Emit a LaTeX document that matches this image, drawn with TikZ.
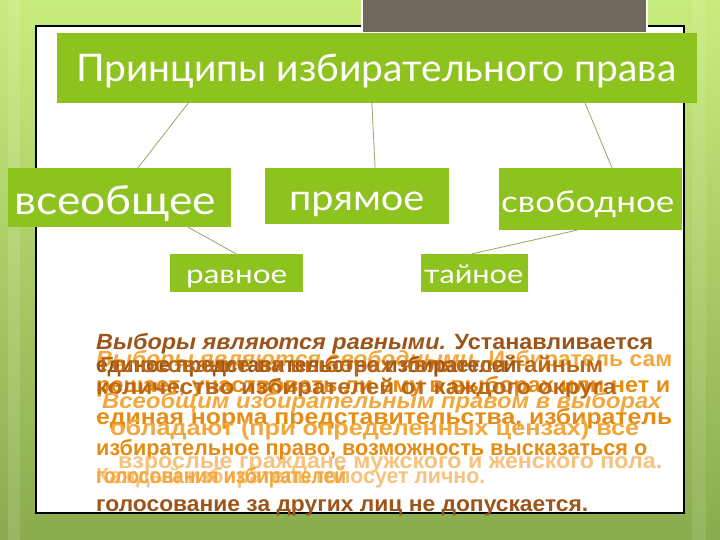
\documentclass[tikz,border=0pt]{standalone}
\usepackage{fontspec}
\usepackage{graphicx}
\setmainfont{Lato}
\newfontfamily\bodyf{Liberation Sans}
\usetikzlibrary{calc}
\definecolor{gfill}{RGB}{141,194,31}
\definecolor{bgtop}{RGB}{200,236,124}
\definecolor{bgbot}{RGB}{138,172,78}
\definecolor{grayrect}{RGB}{111,105,91}
\definecolor{conncol}{RGB}{160,160,100}
\definecolor{cbrown}{RGB}{156,84,24}
\definecolor{cdark}{RGB}{186,102,20}
\definecolor{corange}{RGB}{230,140,18}
\definecolor{clight}{RGB}{242,168,60}
\definecolor{cpale}{RGB}{247,194,126}
\begin{document}
\begin{tikzpicture}[x=1pt,y=-1pt,
  gbox/.style={fill=gfill, draw=none, inner sep=0pt},
  wtxt/.style={text=white, inner sep=0pt, anchor=base west},
  conn/.style={draw=conncol, line width=0.8pt},
  body/.style={inner sep=0pt, anchor=base west, font=\bodyf\bfseries}]
\useasboundingbox (0,0) rectangle (720,540);
% background
\shade[top color=bgtop, bottom color=bgbot] (0,0) rectangle (720,540);
\fill[white,opacity=0.12] (8,0) rectangle (20,540);
\fill[white,opacity=0.10] (692,0) rectangle (706,540);
% white panel
\node[fill=white, draw=black, line width=1.1pt, minimum width=648pt, minimum height=487pt, inner sep=0pt] (panel) at (360,269.5) {};
% gray rectangle at top
\node[fill=grayrect, draw=white, line width=2pt, minimum width=285pt, minimum height=36pt, inner sep=0pt] (grect) at (504.5,15) {};
% title
\node[gbox, minimum width=640pt, minimum height=70pt] (title) at (377,68) {};
\node[wtxt] (titleT) at (76,82) {\resizebox{600pt}{\height}{\fontsize{38}{38}\selectfont Принципы избирательного права}};
% child boxes
\node[gbox, minimum width=223pt, minimum height=59pt] (vse) at (119.5,197.5) {};
\node[gbox, minimum width=184pt, minimum height=56pt] (pry) at (357,196) {};
\node[gbox, minimum width=183pt, minimum height=62pt] (svo) at (590.5,199) {};
\node[gbox, minimum width=133pt, minimum height=38pt] (rav) at (236.5,273) {};
\node[gbox, minimum width=107pt, minimum height=38pt] (tai) at (474.5,273) {};
\node[wtxt] (vseT) at (14,215) {\resizebox{202pt}{\height}{\fontsize{40}{40}\selectfont всеобщее}};
\node[wtxt] (pryT) at (289,211) {\resizebox{135pt}{\height}{\fontsize{36}{36}\selectfont прямое}};
\node[wtxt] (svoT) at (501,213) {\resizebox{173pt}{\height}{\fontsize{30}{30}\selectfont свободное}};
\node[wtxt] (ravT) at (186,283) {\resizebox{101pt}{\height}{\fontsize{26}{26}\selectfont равное}};
\node[wtxt] (taiT) at (424,283) {\resizebox{99pt}{\height}{\fontsize{26}{26}\selectfont тайное}};
% connectors
\draw[conn] ($(title.south west)!0.205!(title.south east)$) -- ($(vse.north west)!0.583!(vse.north east)$);
\draw[conn] ($(title.south west)!0.492!(title.south east)$) -- ($(pry.north west)!0.598!(pry.north east)$);
\draw[conn] ($(title.south west)!0.825!(title.south east)$) -- ($(svo.north west)!0.617!(svo.north east)$);
\draw[conn] ($(vse.south west)!0.807!(vse.south east)$) -- ($(rav.north west)!0.496!(rav.north east)$);
\draw[conn] ($(svo.south west)!0.426!(svo.south east)$) -- ($(tai.north west)!0.477!(tai.north east)$);
% overlapping body text
\node[body, text=cbrown] (r1) at (96,349) {\resizebox{557pt}{\height}{\fontsize{22}{22}\selectfont\textit{Выборы являются равными.} Устанавливается}};
\node[body, text=clight] (r2) at (96,366) {\resizebox{576pt}{\height}{\fontsize{22}{22}\selectfont\textit{Выборы являются свободными.} Избиратель сам}};
\node[body, text=cbrown] (r3b) at (96,372) {\resizebox{420pt}{\height}{\fontsize{22}{22}\selectfont единое представительство избирателей}};
\node[body, text=cdark] (r3) at (100,372) {\resizebox{503pt}{\height}{\fontsize{22}{22}\selectfont Голосование на выборах является тайным}};
\node[body, text=corange] (r4) at (96,392) {\resizebox{574pt}{\height}{\fontsize{22}{22}\selectfont решает, участвовать ли ему в выборах или нет и}};
\node[body, text=cdark] (r4b) at (96,394) {\resizebox{520pt}{\height}{\fontsize{22}{22}\selectfont количество избирателей от каждого округа}};
\node[body, text=clight] (r5) at (102,408) {\resizebox{560pt}{\height}{\fontsize{22}{22}\selectfont\textit{Всеобщим избирательным правом в выборах}}};
\node[body, text=corange] (r6) at (96,424) {\resizebox{576pt}{\height}{\fontsize{22}{22}\selectfont единая норма представительства, избиратель}};
\node[body, text=clight] (r7) at (110,435) {\resizebox{529pt}{\height}{\fontsize{22}{22}\selectfont обладают (при определенных цензах) все}};
\node[body, text=corange] (r8) at (96,455) {\resizebox{551pt}{\height}{\fontsize{22}{22}\selectfont избирательное право, возможность высказаться о}};
\node[body, text=cpale] (r9) at (118,468) {\resizebox{544pt}{\height}{\fontsize{22}{22}\selectfont взрослые граждане мужского и женского пола.}};
\node[body, text=cpale] (r10b) at (96,483) {\resizebox{389pt}{\height}{\fontsize{22}{22}\selectfont Каждый избиратель голосует лично.}};
\node[body, text=clight] (r10) at (96,483) {\resizebox{250pt}{\height}{\fontsize{22}{22}\selectfont голосования избирателей}};
\node[body, text=cbrown] (r11) at (96,511) {\resizebox{492pt}{\height}{\fontsize{22}{22}\selectfont голосование за других лиц не допускается.}};
\end{tikzpicture}
\end{document}
